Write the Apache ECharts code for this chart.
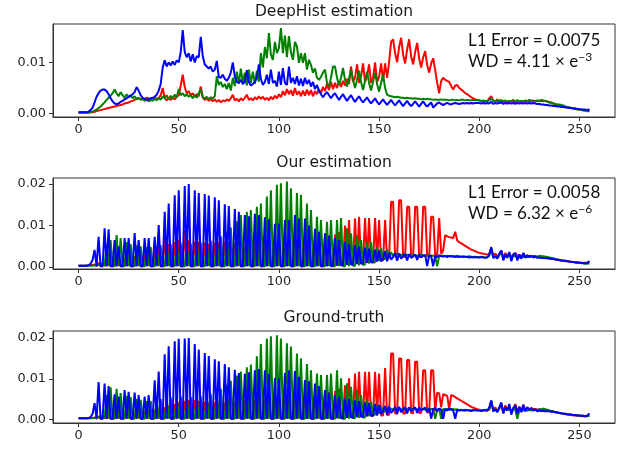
<!DOCTYPE html>
<html>
<head>
<meta charset="utf-8">
<title>Histogram estimation</title>
<script src="https://cdn.jsdelivr.net/npm/echarts@6/dist/echarts.min.js"></script>
<style>
  html, body { margin: 0; padding: 0; background: #fff; }
  #chart { width: 621px; height: 450px; }
</style>
</head>
<body>
<div id="chart"></div>
<script>
// histogram bins 0..255, values in units of 1e-4
const xTicks = [0, 50, 100, 150, 200, 250];
const yTicksTop = [0, 0.01];
const yTicks = [0, 0.01, 0.02];
const panelTitles = ['DeepHist estimation', 'Our estimation', 'Ground-truth'];
const l1Errors = ['0.0075', '0.0058'];
const wdValues = ['4.11', '6.32'];
const wdExps = ['−3', '−6'];

const deepR = [
  2,2,2,2,2,2,3,3, 4,5,6,7,8,9,10,11, 12,13,14,15,16,17,18,20, 21,22,24,25,27,29,30,28,
  30,29,31,30,28,30,31,29, 30,36,50,31,26,30,27,31, 28,33,36,55,76,52,40,44, 36,40,33,38,34,53,32,27,
  30,25,29,24,28,23,27,22, 26,24,28,25,30,37,26,29, 24,30,26,31,37,27,30,26, 32,28,34,29,33,27,31,26,
  33,28,35,30,38,32,44,36, 48,38,46,35,50,37,44,34, 45,35,47,36,46,34,44,38, 48,40,52,44,58,46,62,48,
  60,50,63,52,64,55,68,58, 92,62,70,96,60,72,98,62, 74,96,60,70,100,62,72,98, 64,98,70,100,140,145,118,100,
  130,148,115,98,125,145,112,96, 120,138,108,90,110,122,95,80, 98,108,85,60,40,64,70,66, 64,62,54,47,55,56,50,47,
  44,40,38,35,32,30,28,27, 26,25,25,24,24,30,34,25, 24,28,22,27,23,26,22,25, 24,27,22,26,24,25,23,26,
  24,27,25,26,24,26,25,27, 26,25,24,23,22,20,18,17, 16,15,14,13,12,12,11,10, 10,9,8,8,7,7,6,6
];
const deepG = [
  3,3,3,3,3,3,3,4, 6,8,11,14,18,22,27,31, 35,40,47,40,34,42,36,31, 38,32,36,30,34,28,31,27,
  29,25,28,24,27,25,29,26, 31,27,34,30,36,28,35,30, 37,32,48,36,40,34,38,33, 36,30,37,31,40,47,32,30,
  33,28,32,30,34,73,56,62, 52,58,48,60,45,70,54,82, 58,88,60,80,55,86,60,82, 58,84,62,118,90,130,108,157,
  115,105,140,118,128,167,118,152, 110,151,120,105,140,131,99,118, 99,118,86,105,95,80,88,70, 66,72,80,86,60,53,70,92,
  92,70,56,70,89,66,53,68, 86,65,50,66,84,62,46,64, 82,60,45,62,80,58,43,60, 76,50,37,35,34,33,32,33,
  32,31,31,30,31,30,30,29, 30,29,29,28,29,28,29,28, 28,27,28,27,27,28,27,27, 27,26,27,27,26,27,26,27,
  27,26,27,26,26,27,26,26, 26,25,26,25,25,26,30,25, 25,24,26,25,24,25,24,25, 24,25,24,26,24,25,24,25,
  24,25,24,25,24,25,24,25, 24,25,23,22,21,20,19,18, 18,17,16,14,13,12,11,10, 9,8,8,7,6,6,5,5
];
const deepB = [
  3,3,3,3,3,4,7,12, 22,33,40,45,47,47,44,38, 30,24,20,18,20,23,25,28, 30,33,35,38,42,52,45,36,
  31,29,27,28,30,31,33,37, 45,58,90,104,92,100,94,102, 95,104,100,120,163,120,110,118, 102,116,100,112,110,150,112,96,
  92,88,92,82,86,103,72,70, 76,68,64,70,80,100,72,62, 60,66,58,62,85,62,55,58, 62,70,96,68,56,62,76,58,
  86,60,64,53,82,56,89,60, 56,92,60,70,58,73,55,68, 54,70,58,66,53,62,48,56, 44,38,32,38,42,36,30,36,
  40,33,27,33,38,31,25,31, 36,29,23,29,34,27,22,27, 32,25,20,25,30,23,18,23, 28,22,17,22,27,21,16,21,
  26,20,15,20,25,19,15,19, 24,19,14,19,24,18,14,18, 22,12,16,20,22,19,17,19, 21,19,18,20,21,20,19,20,
  21,20,21,20,21,20,21,21, 21,20,21,20,21,20,23,19, 21,20,21,22,19,21,20,21, 20,21,19,21,20,21,20,21,
  20,21,20,21,20,19,19,18, 18,17,17,16,16,15,15,14, 14,13,13,12,12,11,11,10, 10,9,9,8,8,8,7,9
];

const oursR = [
  3,3,3,3,3,4,4,5, 6,2,10,2,2,12,2,14, 2,2,16,2,18,2,2,20, 2,22,2,2,26,2,28,2,
  2,32,2,36,2,2,40,2, 48,2,2,70,2,56,2,2, 60,2,66,2,2,89,2,64, 2,2,62,2,60,2,2,58,
  2,56,2,2,58,2,60,2, 2,62,2,60,2,2,58,2, 56,2,2,50,2,58,2,2, 60,2,62,2,2,63,2,64,
  2,2,64,2,65,2,2,65, 2,66,2,2,66,2,66,2, 2,65,2,66,2,2,68,2, 70,2,2,72,2,74,2,3,
  78,3,84,4,4,100,5,113, 6,7,117,8,121,9,10,118, 10,118,12,12,118,14,113,15, 16,113,18,22,157,157,26,24,
  161,161,25,24,145,145,25,24, 145,145,25,24,145,145,26,25, 121,121,28,30,118,32,40,77, 74,72,71,70,85,64,60,57,
  54,51,48,45,42,40,38,36, 34,33,32,31,30,32,46,28, 32,26,30,40,22,34,26,32, 24,30,34,26,30,24,32,26,
  28,26,27,25,26,24,25,24, 24,23,22,21,20,19,18,17, 16,15,15,14,14,13,13,12, 12,11,11,10,10,10,11,13
];
const oursG = [
  3,3,3,3,3,3,3,3, 4,4,5,6,8,2,55,2, 65,2,2,77,2,70,2,2, 60,2,55,2,2,52,2,50,
  2,2,48,2,48,2,2,50, 2,52,2,2,53,2,55,2, 2,56,2,58,2,2,57,2, 56,2,2,57,2,58,2,2,
  60,2,63,2,2,68,2,74, 2,2,85,2,95,2,2,110, 2,125,2,2,133,2,137,2, 2,145,2,153,2,2,170,2,
  185,2,2,198,2,202,2,2, 206,2,190,2,2,178,2,174, 2,2,153,2,137,2,2,121, 2,113,2,2,109,2,113,2,
  2,113,2,118,2,2,93,2, 81,3,3,76,4,65,5,6, 60,8,60,10,12,48,14,45, 18,20,42,24,36,26,34,27,
  32,28,31,27,30,28,30,27, 29,27,29,28,29,27,28,27, 28,27,26,2,27,28,27,26, 27,26,27,26,26,27,26,25,
  26,25,25,26,25,24,25,24, 24,25,24,23,24,27,44,22, 26,22,28,38,20,27,22,32, 22,28,26,24,23,25,24,27,
  24,26,25,27,26,25,27,26, 26,25,24,23,22,21,19,18, 17,16,15,15,14,13,12,12, 11,10,10,9,9,8,8,9
];
const oursB = [
  3,3,3,3,3,4,8,17, 41,2,73,2,2,93,2,91, 2,2,65,2,50,2,2,70, 2,70,2,2,82,2,65,2,
  2,70,2,70,2,2,73,2, 101,2,2,133,2,153,2,2, 173,2,185,2,2,195,2,200, 2,2,185,2,178,2,2,176,
  2,172,2,2,168,2,161,2, 2,151,2,147,2,2,140,2, 133,2,2,125,2,122,2,2, 128,2,125,2,2,120,2,115,
  2,2,104,2,104,2,2,113, 2,113,2,2,125,2,117,2, 2,117,2,100,2,2,92,2, 85,2,2,81,2,76,2,3,
  70,3,65,4,4,60,5,55, 6,6,52,7,50,8,9,47, 10,44,11,12,42,13,40,14, 20,38,14,34,18,24,33,15,
  32,20,26,31,16,31,22,26, 30,17,30,23,27,29,2,28, 26,2,27,24,28,26,25,27, 24,27,25,26,24,25,24,25,
  24,25,24,23,24,23,24,23, 23,24,23,22,23,30,48,22, 26,20,32,40,16,30,24,36, 14,30,34,16,30,20,34,22,
  28,24,27,23,25,22,23,22, 22,21,21,20,20,19,18,18, 17,16,15,15,14,13,12,12, 11,11,10,10,9,9,10,14
];

const truthR = [
  3,3,3,3,3,4,4,4, 5,2,8,2,2,10,2,10, 2,2,12,2,12,2,2,14, 2,14,2,2,16,2,18,2,
  2,20,2,22,2,2,24,2, 26,2,2,30,2,34,2,2, 38,2,42,2,2,46,2,48, 2,2,48,2,46,2,2,44,
  2,42,2,2,42,2,41,2, 2,42,2,43,2,2,44,2, 45,2,2,46,2,47,2,2, 48,2,50,2,2,51,2,52,
  2,2,53,2,54,2,2,54, 2,55,2,2,56,2,56,2, 2,57,2,58,2,2,60,2, 62,2,2,64,2,66,2,2,
  70,3,75,3,3,84,5,101, 6,6,113,7,117,8,8,117, 8,117,9,9,117,10,113,10, 10,126,10,12,162,162,15,14,
  150,150,15,14,146,146,16,15, 142,142,16,16,121,121,17,18, 121,121,20,66,64,30,62,60, 58,25,60,58,55,52,49,46,
  43,40,37,34,31,29,27,25, 24,23,22,22,22,24,45,22, 30,20,26,38,15,35,22,30, 18,26,38,20,30,20,36,22,
  30,24,28,26,26,24,25,24, 24,23,22,21,20,19,18,17, 16,15,14,13,12,12,11,10, 10,9,9,8,8,8,9,10
];
const truthG = [
  3,3,3,3,3,3,3,3, 4,4,5,6,8,2,60,2, 79,2,2,75,2,65,2,2, 58,2,55,2,2,50,2,48,
  2,2,45,2,45,2,2,48, 2,50,2,2,52,2,54,2, 2,55,2,56,2,2,55,2, 55,2,2,56,2,57,2,2,
  58,2,62,2,2,68,2,75, 2,2,85,2,95,2,2,108, 2,118,2,2,128,2,135,2, 2,155,2,185,2,2,199,2,
  204,2,2,207,2,199,2,2, 187,2,179,2,2,162,2,150, 2,2,136,2,121,2,2,113, 2,109,2,2,109,2,113,2,
  2,121,2,101,2,2,89,2, 80,3,3,72,4,60,5,5, 47,8,43,10,12,35,14,32, 18,20,30,22,27,24,28,25,
  27,24,28,25,27,24,27,25, 27,24,27,25,26,24,27,25, 26,25,2,24,26,2,26,25, 26,24,25,26,24,25,23,24,
  23,24,23,22,23,24,23,22, 23,22,23,24,22,26,45,20, 25,22,28,40,18,26,22,30, 20,28,24,2,22,23,22,24,
  22,23,22,24,23,22,26,24, 27,25,24,22,21,20,18,17, 16,15,14,14,13,12,12,11, 11,10,10,9,9,8,8,9
];
const truthB = [
  3,3,3,3,3,3,6,14, 40,2,92,2,2,88,2,82, 2,2,62,2,56,2,2,72, 2,68,2,2,66,2,60,2,
  2,56,2,60,2,2,96,2, 118,2,2,160,2,180,2,2, 192,2,198,2,2,199,2,200, 2,2,185,2,172,2,2,163,
  2,156,2,2,148,2,143,2, 2,136,2,128,2,2,122,2, 114,2,2,112,2,116,2,2, 121,2,124,2,2,121,2,112,
  2,2,102,2,100,2,2,114, 2,120,2,2,119,2,105,2, 2,97,2,94,2,2,88,2, 82,2,2,72,2,66,2,2,
  60,3,56,3,3,52,4,50, 5,5,47,6,45,7,7,42, 8,40,9,9,38,10,36,14, 20,33,12,32,16,22,31,14,
  31,18,24,30,15,30,20,25, 30,16,29,22,26,29,18,28, 2,26,28,20,27,24,2,26, 22,26,25,22,2,24,22,23,
  22,22,23,22,21,22,23,22, 22,21,22,23,22,30,47,20, 25,18,30,42,15,30,22,38, 12,28,35,14,32,18,36,20,
  30,24,28,22,25,20,22,21, 21,20,20,20,19,19,18,17, 16,15,14,14,13,12,12,11, 11,10,10,9,9,8,10,15
];

const panels = [
  {top: 24, height: 93, yMin: -0.00064, yMax: 0.01748, ticks: yTicksTop, lines: [deepR, deepG, deepB], titleY: 12},
  {top: 178, height: 91, yMin: -0.00048, yMax: 0.02145, ticks: yTicks, lines: [oursR, oursG, oursB], titleY: 163},
  {top: 331, height: 92, yMin: -0.00086, yMax: 0.02172, ticks: yTicks, lines: [truthR, truthG, truthB], titleY: 318}
];
const colors = ['#ff0000', '#008000', '#0000ff'];
const tickFont = 'DejaVu Sans';

const series = [];
panels.forEach((p, k) => {
  p.lines.forEach((arr, c) => {
    series.push({
      type: 'line',
      xAxisIndex: k,
      yAxisIndex: k,
      data: arr.map((v, i) => [i, v / 10000]),
      symbol: 'none',
      showSymbol: false,
      silent: true,
      animation: false,
      lineStyle: {color: colors[c], width: 2},
      itemStyle: {color: colors[c]}
    });
  });
});

const graphic = [];
panels.forEach((p, k) => {
  graphic.push({
    type: 'text', x: 334, y: p.titleY,
    style: {text: panelTitles[k], font: '15.5px "DejaVu Sans"', fill: '#1a1a1a',
            textAlign: 'center', textVerticalAlign: 'middle'}
  });
});
[41, 193].forEach((y, k) => {
  graphic.push({
    type: 'text', x: 468, y: y,
    style: {text: 'L1 Error = ' + l1Errors[k], font: '17px Lato', fill: '#111',
            textAlign: 'left', textVerticalAlign: 'middle'}
  });
  graphic.push({
    type: 'text', x: 468, y: y + 21,
    style: {
      text: '{m|WD = ' + wdValues[k] + ' × e}{s|' + wdExps[k] + '}',
      fill: '#111', textAlign: 'left', textVerticalAlign: 'middle',
      rich: {
        m: {fontSize: 17, fontFamily: 'Lato', lineHeight: 22, fill: '#111'},
        s: {fontSize: 12, fontFamily: 'Lato', verticalAlign: 'top', fill: '#111'}
      }
    }
  });
});

const chart = echarts.init(document.getElementById('chart'), null, {renderer: 'canvas'});
chart.setOption({
  animation: false,
  backgroundColor: '#fff',
  grid: panels.map(p => ({
    left: 53, width: 562, top: p.top, height: p.height,
    show: true, borderColor: '#333', borderWidth: 1, backgroundColor: 'transparent'
  })),
  xAxis: panels.map((p, k) => ({
    gridIndex: k, type: 'value', min: -12.75, max: 267.75,
    axisLine: {show: true, onZero: false, lineStyle: {color: '#333', width: 1}},
    axisTick: {show: true, customValues: xTicks, length: 4, lineStyle: {color: '#333'}},
    axisLabel: {customValues: xTicks, margin: 6, fontSize: 12.8, color: '#222', fontFamily: tickFont},
    splitLine: {show: false}
  })),
  yAxis: panels.map((p, k) => ({
    gridIndex: k, type: 'value', min: p.yMin, max: p.yMax,
    axisLine: {show: true, onZero: false, lineStyle: {color: '#333', width: 1}},
    axisTick: {show: true, customValues: p.ticks, length: 4, lineStyle: {color: '#333'}},
    axisLabel: {customValues: p.ticks, margin: 7, fontSize: 12.8, color: '#222', fontFamily: tickFont,
                formatter: v => v.toFixed(2)},
    splitLine: {show: false}
  })),
  series: series,
  graphic: graphic
});
</script>
</body>
</html>
